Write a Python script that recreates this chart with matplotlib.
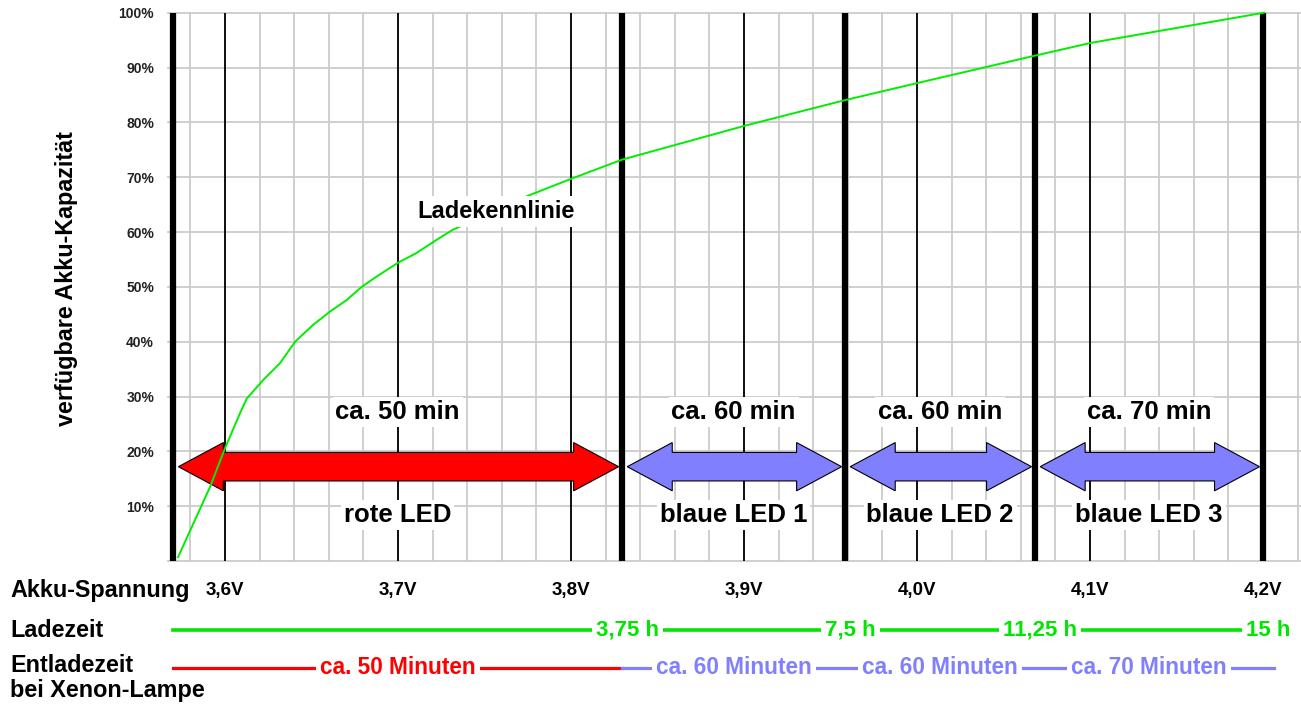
import matplotlib.pyplot as plt
import matplotlib.transforms as mtransforms
import numpy as np

plt.rcParams['font.family'] = ['Liberation Sans', 'DejaVu Sans']
plt.rcParams['font.weight'] = 'bold'

# Ladekennlinie: Akku-Spannung (V) -> verfuegbare Kapazitaet (%)
curve_volt = [3.5728, 3.5913, 3.600, 3.6087, 3.6125, 3.622, 3.6318, 3.6405, 3.651,
              3.6607, 3.6703, 3.679, 3.6877, 3.700, 3.7108, 3.7224, 3.7316, 3.775,
              3.800, 3.8295, 3.9006, 3.959, 4.0006, 4.070, 4.1006, 4.2006]
curve_pct = [0.7, 13.5, 20.6, 27.0, 29.6, 33.0, 36.1, 40.0, 43.1,
             45.5, 47.6, 50.0, 51.9, 54.4, 56.2, 58.6, 60.4, 66.6,
             69.7, 73.2, 79.4, 84.1, 87.2, 92.3, 94.5, 100.0]

volt_ticks = [3.6, 3.7, 3.8, 3.9, 4.0, 4.1, 4.2]
volt_labels = ['3,6V', '3,7V', '3,8V', '3,9V', '4,0V', '4,1V', '4,2V']
pct_ticks = [0, 10, 20, 30, 40, 50, 60, 70, 80, 90, 100]

# Abschnittsgrenzen (dicke Linien) und Beschriftungen
bounds = [3.570, 3.8295, 3.9584, 4.0682, 4.200]
seg_top = ['ca. 50 min', 'ca. 60 min', 'ca. 60 min', 'ca. 70 min']
seg_bottom = ['rote LED', 'blaue LED 1', 'blaue LED 2', 'blaue LED 3']
seg_colors = ['#ff0000', '#8080ff', '#8080ff', '#8080ff']
charge_labels = ['3,75 h', '7,5 h', '11,25 h', '15 h']
discharge_labels = ['ca. 50 Minuten', 'ca. 60 Minuten', 'ca. 60 Minuten', 'ca. 70 Minuten']

GREEN = '#00e600'
BLUE = '#8080ff'
RED = '#ff0000'

fig = plt.figure(figsize=(13.01, 7.04), dpi=100)
ax = fig.add_axes([168 / 1301, 1 - 561 / 704, 1132 / 1301, 548.3 / 704])
ax.set_xlim(3.567, 4.2214)
ax.set_ylim(0, 100)
for s in ax.spines.values():
    s.set_visible(False)

# graues Raster
ax.set_xticks(np.arange(3.58, 4.225, 0.02))
ax.set_xticklabels([])
ax.tick_params(axis='x', length=0)
ax.set_yticks(pct_ticks)
ax.set_yticklabels([''] + ['%d%%' % p for p in pct_ticks[1:]], fontsize=10, color='#222222')
ax.tick_params(axis='y', length=0, pad=10)
ax.grid(True, color='#cccccc', lw=1.3, zorder=0)
ax.set_axisbelow(True)
for gl in ax.get_xgridlines() + ax.get_ygridlines():
    gl.set_clip_on(False)

ax.set_ylabel('verfügbare Akku-Kapazität', fontsize=16.8, fontweight='bold')
ax.yaxis.set_label_coords(-0.0795, 0.515)

# schwarze Linien
ax.vlines(volt_ticks[:-1], 0, 100, color='black', lw=1.3, zorder=1.5)
ax.vlines(bounds, 0, 100, color='black', lw=4.5, zorder=1.6, clip_on=False)

# Doppelpfeile
yc, hw, sw, hl = 17.2, 4.4, 2.6, 0.026
for i in range(4):
    x0 = bounds[i] + 0.003
    x1 = bounds[i + 1] - 0.002
    xs = [x0, x0 + hl, x0 + hl, x1 - hl, x1 - hl, x1, x1 - hl, x1 - hl, x0 + hl, x0 + hl]
    ys = [yc, yc + hw, yc + sw, yc + sw, yc + hw, yc, yc - hw, yc - sw, yc - sw, yc - hw]
    ax.fill(xs, ys, facecolor=seg_colors[i], edgecolor='black', lw=0.8, zorder=3)
    xm = (bounds[i] + bounds[i + 1]) / 2
    ax.text(xm, 27.2, seg_top[i], ha='center', va='center', fontsize=18.5, zorder=4,
            bbox=dict(fc='white', ec='none', pad=2))
    ax.text(xm, 8.4, seg_bottom[i], ha='center', va='center', fontsize=18.5, zorder=4,
            bbox=dict(fc='white', ec='none', pad=2))

# Ladekennlinie
ax.plot(curve_volt, curve_pct, color='#00ee00', lw=1.4, zorder=3.5, clip_on=False)
ax.text(3.7566, 63.7, 'Ladekennlinie', ha='center', va='center', fontsize=17, zorder=4,
        bbox=dict(fc='white', ec='none', pad=3))

# Zeilen unter dem Diagramm
trans = mtransforms.blended_transform_factory(fig.transFigure, ax.transData)
row_fs = 16.8
ax.text(10 / 1301, -5.3, 'Akku-Spannung', transform=trans, ha='left', va='center', fontsize=row_fs)
ax.text(10 / 1301, -12.6, 'Ladezeit', transform=trans, ha='left', va='center', fontsize=row_fs)
ax.text(10 / 1301, -19.1, 'Entladezeit', transform=trans, ha='left', va='center', fontsize=row_fs)
ax.text(10 / 1301, -23.6, 'bei Xenon-Lampe', transform=trans, ha='left', va='center', fontsize=row_fs)

for v, lab in zip(volt_ticks, volt_labels):
    ax.text(v, -5.3, lab, ha='center', va='center', fontsize=13.5, clip_on=False)

ax.plot([bounds[0], bounds[-1]], [-12.6, -12.6], color=GREEN, lw=2.6, clip_on=False, zorder=2)
for b, lab in zip(bounds[1:], charge_labels):
    ax.text(b + 0.003, -12.6, lab, ha='center', va='center', fontsize=16, color=GREEN,
            zorder=4, clip_on=False, bbox=dict(fc='white', ec='none', pad=3))

ax.plot([bounds[0], bounds[1]], [-19.5, -19.5], color=RED, lw=2.3, clip_on=False, zorder=2)
ax.plot([bounds[1], bounds[-1] + 0.0065], [-19.5, -19.5], color=BLUE, lw=2.3, clip_on=False, zorder=2)
for i, lab in enumerate(discharge_labels):
    xm = (bounds[i] + bounds[i + 1]) / 2
    ax.text(xm, -19.5, lab, ha='center', va='center', fontsize=16.3, color=seg_colors[i],
            zorder=4, clip_on=False, bbox=dict(fc='white', ec='none', pad=3))

fig.savefig('out.png', dpi=100)
